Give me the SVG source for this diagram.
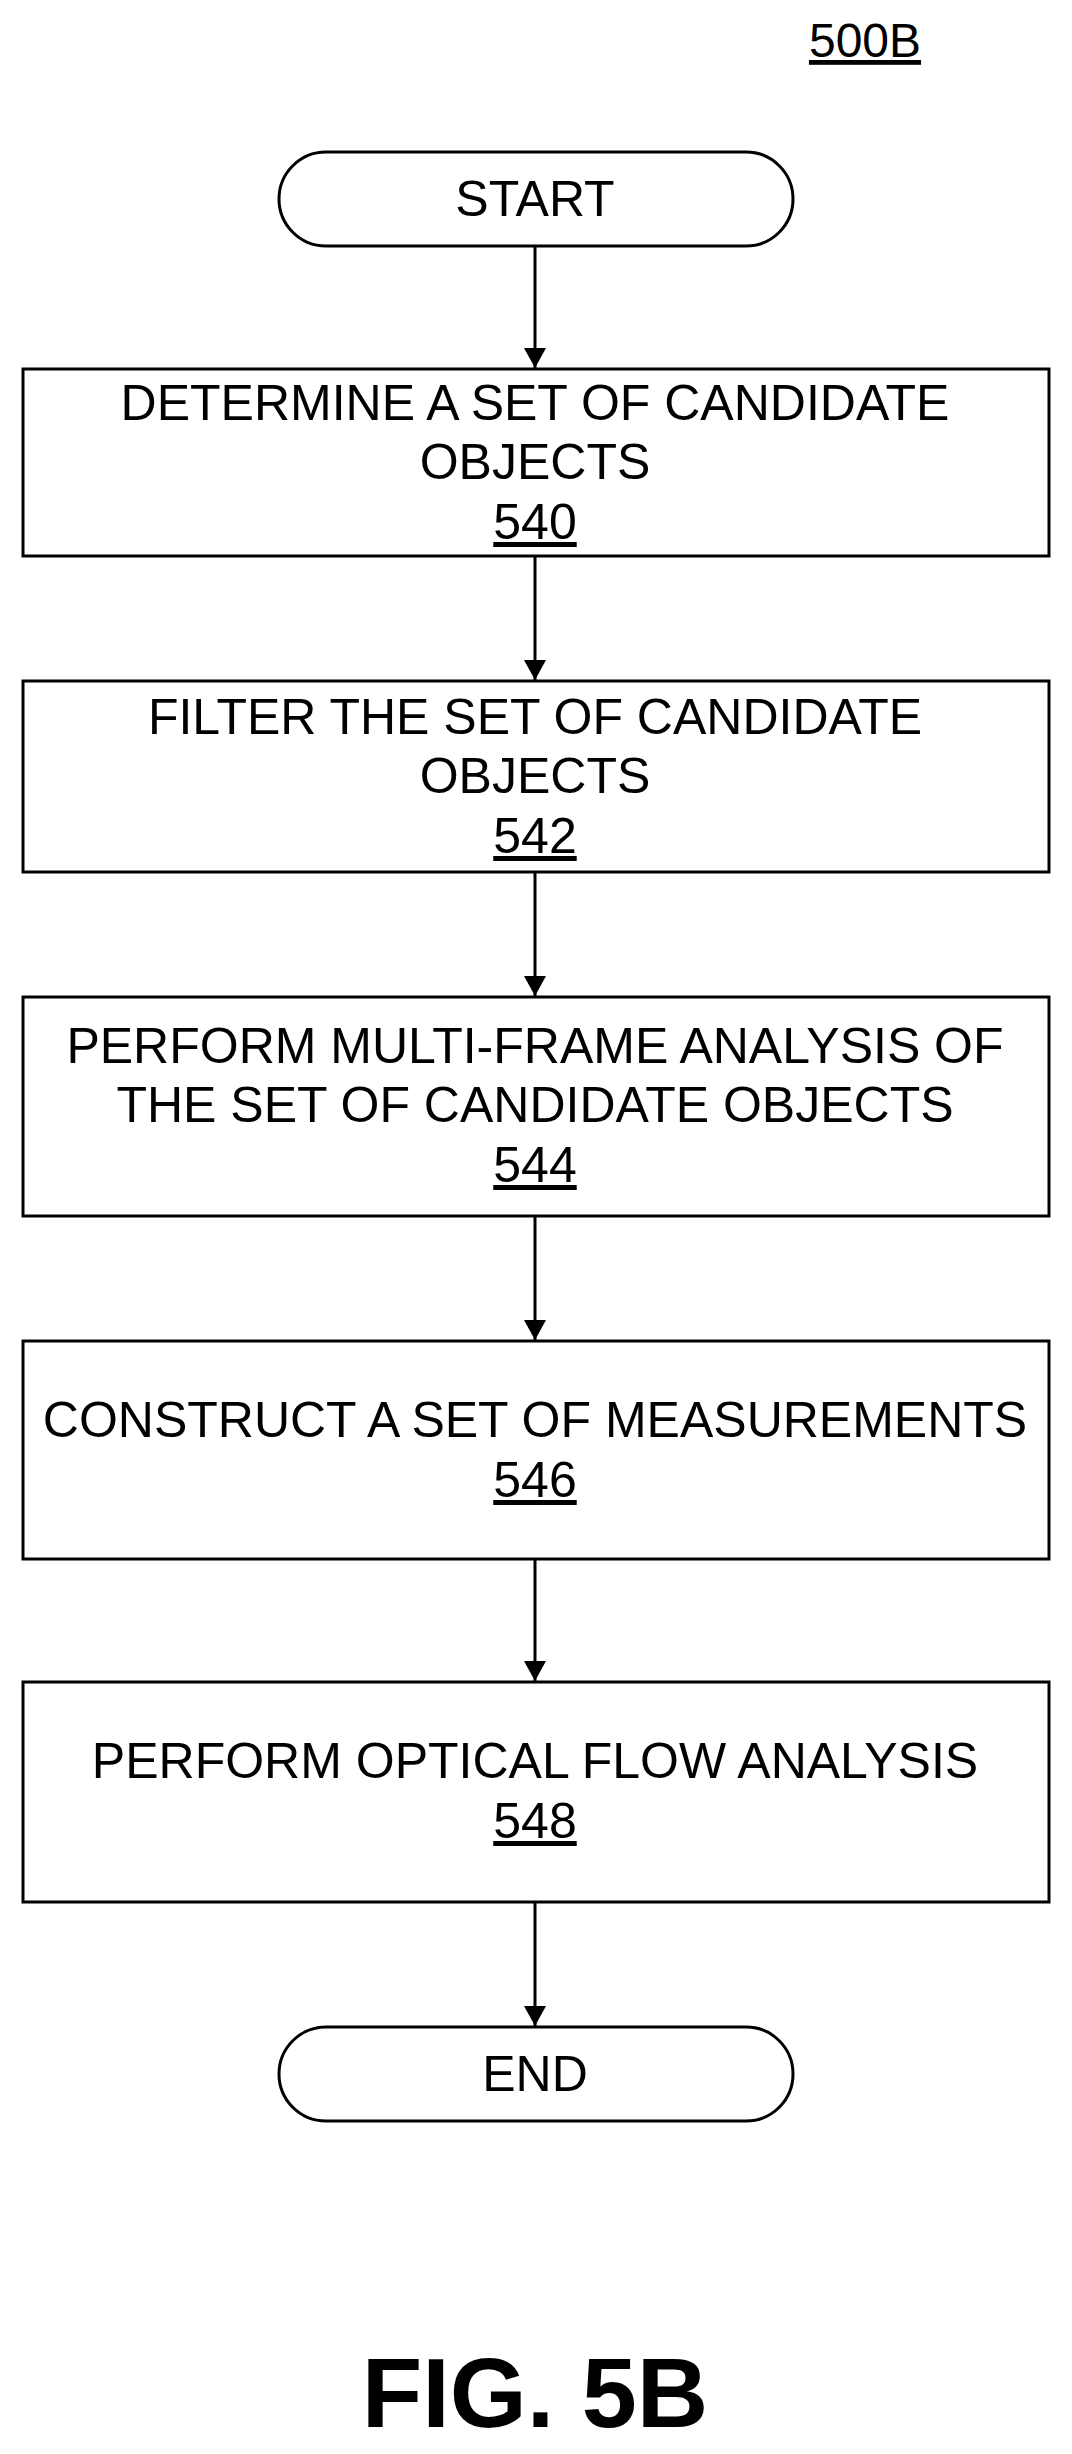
<svg xmlns="http://www.w3.org/2000/svg" width="1072" height="2454" viewBox="0 0 1072 2454">
<style>
.n{fill:#fff;stroke:#000;stroke-width:3}
text{font-family:"Liberation Sans",Arial,sans-serif;font-size:50px;text-anchor:middle;fill:#000}
.u{text-decoration:underline}
.c{stroke:#000;stroke-width:3;fill:none;marker-end:url(#a)}
</style>
<defs><marker id="a" markerWidth="20" markerHeight="22" refX="20" refY="11" orient="auto" markerUnits="userSpaceOnUse" viewBox="0 0 20 22"><path d="M0,0L20,11L0,22z"/></marker></defs>
<rect width="1072" height="2454" fill="#fff"/>
<text x="865" y="57" class="u" style="font-size:48px">500B</text>
<g id="connectors">
<path class="c" d="M535 246V368"/>
<path class="c" d="M535 556V680"/>
<path class="c" d="M535 872V996"/>
<path class="c" d="M535 1216V1340"/>
<path class="c" d="M535 1559V1681"/>
<path class="c" d="M535 1902V2026"/>
</g>
<g id="start"><rect class="n" x="279" y="152" width="514" height="94" rx="47"/><text x="535" y="216">START</text></g>
<g id="n540"><rect class="n" x="23" y="369" width="1026" height="187"/><text x="535" y="420">DETERMINE A SET OF CANDIDATE</text><text x="535" y="479">OBJECTS</text><text x="535" y="539" class="u">540</text></g>
<g id="n542"><rect class="n" x="23" y="681" width="1026" height="191"/><text x="535" y="734">FILTER THE SET OF CANDIDATE</text><text x="535" y="793">OBJECTS</text><text x="535" y="853" class="u">542</text></g>
<g id="n544"><rect class="n" x="23" y="997" width="1026" height="219"/><text x="535" y="1063">PERFORM MULTI-FRAME ANALYSIS OF</text><text x="535" y="1122">THE SET OF CANDIDATE OBJECTS</text><text x="535" y="1182" class="u">544</text></g>
<g id="n546"><rect class="n" x="23" y="1341" width="1026" height="218"/><text x="535" y="1437">CONSTRUCT A SET OF MEASUREMENTS</text><text x="535" y="1497" class="u">546</text></g>
<g id="n548"><rect class="n" x="23" y="1682" width="1026" height="220"/><text x="535" y="1778">PERFORM OPTICAL FLOW ANALYSIS</text><text x="535" y="1838" class="u">548</text></g>
<g id="end"><rect class="n" x="279" y="2027" width="514" height="94" rx="47"/><text x="535" y="2091">END</text></g>
<text x="535" y="2427" style="font-size:99px;font-weight:bold">FIG. 5B</text>
</svg>
